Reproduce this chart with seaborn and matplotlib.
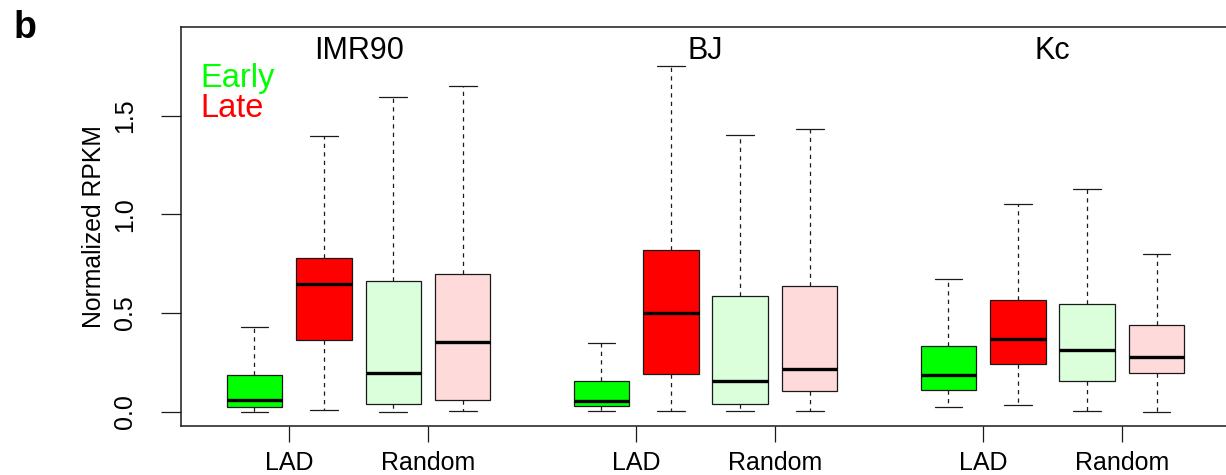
import seaborn as sns
import matplotlib.pyplot as plt
import pandas as pd

# Boxplot of normalized RPKM: early / late replicating, LAD vs random, 3 cell types

cells = ["IMR90", "BJ", "Kc"]
kinds = ["Early LAD", "Late LAD", "Early Random", "Late Random"]

# box stats (per cell: Early LAD, Late LAD, Early Random, Late Random)
lo  = [0.000, 0.009, 0.000, 0.004,  0.004, 0.004, 0.004, 0.005,  0.025, 0.035, 0.002, 0.000]
q1  = [0.025, 0.362, 0.041, 0.059,  0.027, 0.193, 0.037, 0.105,  0.112, 0.240, 0.156, 0.198]
med = [0.059, 0.646, 0.195, 0.355,  0.054, 0.499, 0.154, 0.218,  0.185, 0.367, 0.314, 0.276]
q3  = [0.186, 0.781, 0.661, 0.698,  0.156, 0.820, 0.587, 0.639,  0.335, 0.565, 0.545, 0.438]
hi  = [0.428, 1.398, 1.594, 1.652,  0.347, 1.753, 1.405, 1.435,  0.673, 1.053, 1.129, 0.800]

colors = {"Early LAD": "#00FF00", "Late LAD": "#FF0000",
          "Early Random": "#DAFFDA", "Late Random": "#FFDADA"}

# five points per box -> quartiles and min/max are exactly the values above
rows = []
for i in range(len(lo)):
    g, k = divmod(i, 4)
    pos = g * 5 + k + 1
    for v in (lo[i], q1[i], med[i], q3[i], hi[i]):
        rows.append({"pos": pos, "value": v, "kind": kinds[k], "cell": cells[g]})
df = pd.DataFrame(rows)

sns.set_theme(style="white")
plt.rcParams["font.family"] = ["Liberation Sans", "DejaVu Sans"]
plt.rcParams.update({"text.color": "black", "axes.labelcolor": "black",
                     "xtick.color": "black", "ytick.color": "black"})

fig = plt.figure(figsize=(12.26, 4.75), dpi=100)
ax = fig.add_axes([181 / 1226, 1 - 426.3 / 475, 1 - 181 / 1226, (426.3 - 27.3) / 475])

line = "#1a1a1a"
sns.boxplot(data=df, x="pos", y="value", hue="kind", palette=colors,
            native_scale=True, dodge=False, whis=(0, 100), width=0.8,
            saturation=1, showfliers=False, legend=False,
            linecolor=line, linewidth=0.9,
            medianprops=dict(color="black", linewidth=2.4),
            whiskerprops=dict(linestyle=(0, (3.4, 3.4))),
            ax=ax)

ax.set_xlim(-0.059, 15.0)
ax.set_ylim(-0.074, 1.949)
ax.set_xticks([1.5, 3.5, 6.5, 8.5, 11.5, 13.5])
ax.set_xticklabels(["LAD", "Random"] * 3, fontsize=18)
ax.set_yticks([0, 0.5, 1.0, 1.5])
ax.set_yticklabels(["0.0", "0.5", "1.0", "1.5"], fontsize=18, rotation=90, va="center")
ax.tick_params(axis="x", length=11.5, width=0.9, color=line, pad=6, bottom=True)
ax.tick_params(axis="y", length=14.4, width=0.9, color=line, pad=17, left=True)
ax.set_xlabel("")
ax.set_ylabel("Normalized RPKM", fontsize=17.8)
ax.yaxis.set_label_coords((106 - 181) / 1045, 0.5)

for s in ["left", "top", "bottom"]:
    ax.spines[s].set_color(line)
    ax.spines[s].set_linewidth(1.1)
ax.spines["right"].set_visible(False)

for g, name in enumerate(cells):
    ax.text(g * 5 + 2.5, 1.787, name, ha="center", va="baseline", fontsize=22)

ax.text(0.215, 1.645, "Early", color="#00FF00", ha="left", va="baseline", fontsize=23.5)
ax.text(0.215, 1.493, "Late", color="#FF0000", ha="left", va="baseline", fontsize=23.5)

fig.text(13.3 / 1226, 1 - 38.3 / 475, "b", fontweight="bold", fontsize=27, va="baseline")

fig.savefig("out.png", dpi=100)
